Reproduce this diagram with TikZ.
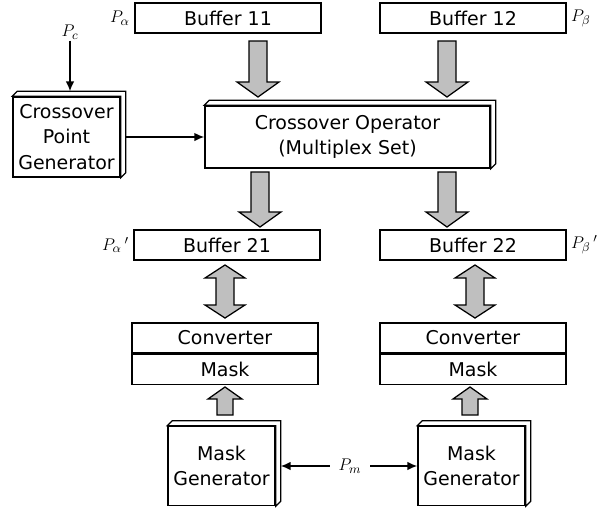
\documentclass[tikz,border=0pt]{standalone}
\usepackage{fontspec}
\setmainfont{DejaVu Sans}
\usetikzlibrary{arrows.meta,positioning,calc}
\tikzset{
  buf/.style={draw, line width=1pt, minimum width=4.65cm, minimum height=0.75cm,
              inner sep=0pt, font=\fontsize{13.5}{16}\selectfont},
  gbox/.style={draw, fill=white, line width=1pt, align=center, inner sep=0pt,
               font=\fontsize{13.5}{18}\selectfont},
  plab/.style={font=\fontsize{13}{15}\selectfont, inner sep=1pt},
  blkarrow/.style={draw, line width=0.9pt, fill=gray!50},
  flow/.style={-{Latex[length=7pt,width=6pt]}, line width=1pt},
}
% solid side of a box: top and right faces
\newcommand{\solidside}[1]{%
  \filldraw[fill=white, line width=0.9pt] (#1.north west) -- ++(5,-5)
    -- ([shift={(5,-5)}]#1.north east) -- ([shift={(5,-5)}]#1.south east)
    -- (#1.south east) -- (#1.north east) -- cycle;}
% block arrows: x, y top, y bottom
\newcommand{\blkdown}[3]{%
  \draw[blkarrow] (#1-9,#2) -- (#1+9,#2) -- (#1+9,#3-15) -- (#1+21,#3-15)
    -- (#1,#3) -- (#1-21,#3-15) -- (#1-9,#3-15) -- cycle;}
\newcommand{\blkboth}[3]{%
  \draw[blkarrow] (#1,#2) -- (#1+20,#2+13) -- (#1+9,#2+13) -- (#1+9,#3-13)
    -- (#1+20,#3-13) -- (#1,#3) -- (#1-20,#3-13) -- (#1-9,#3-13)
    -- (#1-9,#2+13) -- (#1-20,#2+13) -- cycle;}
\newcommand{\blkup}[3]{%
  \draw[blkarrow] (#1,#2) -- (#1+17,#2+12) -- (#1+8,#2+12) -- (#1+8,#3)
    -- (#1-8,#3) -- (#1-8,#2+12) -- (#1-17,#2+12) -- cycle;}

\begin{document}
\begin{tikzpicture}[x=0.025cm, y=-0.025cm]
  \useasboundingbox (0,0) rectangle (600,508);
  % Buffers
  \node[buf] (b11) at (228,18) {Buffer 11};
  \node[buf] (b12) at (473,18) {Buffer 12};
  \node[buf] (b21) at (227,245) {Buffer 21};
  \node[buf] (b22) at (473,245) {Buffer 22};
  \node[plab, left=2pt of b11] (pa) {$P_{\alpha}$};
  \node[plab, right=2pt of b12] (pb) {$P_{\beta}$};
  \node[plab, left=2pt of b21] (pa2) {$P_{\alpha}{}\,'$};
  \node[plab, right=2pt of b22] (pb2) {$P_{\beta}{}\,'$};

  % Converter / Mask
  \node[buf] (cv1) at (225,338) {Converter};
  \node[buf, below=0pt of cv1] (mk1) {Mask};
  \node[buf] (cv2) at (473,338) {Converter};
  \node[buf, below=0pt of cv2] (mk2) {Mask};

  % Solid boxes
  \node[gbox, minimum width=2.675cm, minimum height=2cm] (cpg) at (66.5,137)
        {Crossover\\Point\\Generator};
  \node[gbox, minimum width=7.125cm, minimum height=1.55cm] (cop) at (347.5,137)
        {Crossover Operator\\(Multiplex Set)};
  \node[gbox, minimum width=2.675cm, minimum height=1.975cm] (mg1) at (221.5,466)
        {Mask\\Generator};
  \node[gbox, minimum width=2.675cm, minimum height=1.975cm] (mg2) at (471.5,466)
        {Mask\\Generator};
  \solidside{cpg}
  \solidside{cop}
  \solidside{mg1}
  \solidside{mg2}

  % Control inputs
  \node[plab] (pc) at (70,32) {$P_c$};
  \coordinate (cpgtop) at ($(cpg.north)+(0,-5)$);
  \draw[flow] (pc) -- (pc |- cpgtop);
  \draw[flow] ([shift={(5,0)}]cpg.east) -- (cop.west);
  \node[plab, inner xsep=6pt] (pm) at (350,466) {$P_m$};
  \draw[flow] (pm.west) -- ([shift={(5,0)}]mg1.east);
  \draw[flow] (pm.east) -- (mg2.west);

  % Data flow
  \blkdown{258}{41}{97}
  \blkdown{447}{41}{97}
  \blkdown{260}{172}{227}
  \blkdown{447}{172}{227}
  \blkboth{225}{265}{318}
  \blkboth{475}{265}{318}
  \blkup{225}{387}{415}
  \blkup{470}{387}{415}
\end{tikzpicture}
\end{document}
